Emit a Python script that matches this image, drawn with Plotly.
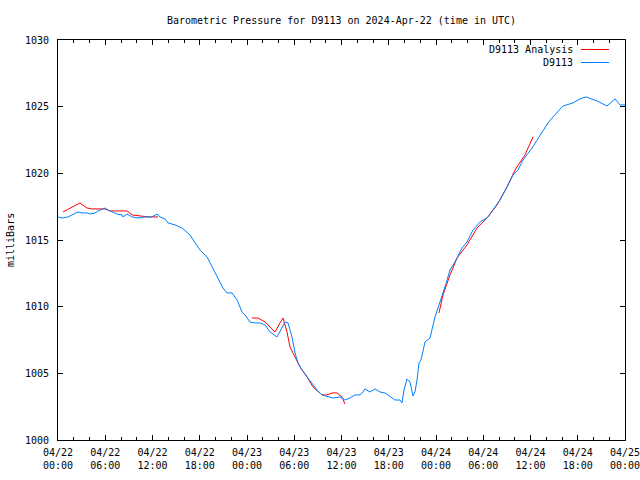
import plotly.graph_objects as go

# Hours since 2024-04-22 00:00 UTC and pressure (mbar) for station D9113
obs_hours = [0.0, 0.51, 1.27, 2.16, 2.54, 3.05, 3.68, 4.06, 4.70, 5.08, 5.97, 6.35, 6.98, 7.49,
             8.13, 8.25, 8.76, 9.40, 10.16, 11.05, 11.94, 12.57, 12.95, 13.59, 13.97, 14.86,
             15.75, 16.38, 16.76, 17.40, 18.03, 18.92, 19.30, 20.19, 20.95, 21.46, 22.10,
             22.73, 23.37, 23.75, 24.38, 25.02, 25.65, 26.29, 26.92, 27.81, 28.44, 28.83,
             29.21, 29.71, 30.10, 30.48, 30.98, 31.62, 32.25, 32.89, 33.52, 34.29, 34.92,
             35.81, 36.44, 37.08, 37.71, 38.35, 38.73, 38.98, 39.62, 40.25, 40.89, 41.52,
             42.16, 42.79, 43.43, 43.68, 43.94, 44.32, 44.70, 45.08, 45.33, 45.59, 45.84,
             46.10, 46.60, 47.24, 47.87, 48.51, 49.14, 49.78, 50.41, 51.30, 51.94, 52.70,
             53.59, 54.48, 55.49, 56.13, 57.02, 57.78, 58.41, 59.05, 60.19, 60.83, 61.46,
             62.22, 62.86, 64.13, 65.40, 66.29, 67.05, 68.44, 69.71, 70.73, 71.37, 72.0]
obs_mbar = [1016.73, 1016.65, 1016.73, 1017.03, 1017.10, 1017.03, 1017.03, 1016.95, 1017.03,
            1017.18, 1017.40, 1017.25, 1017.10, 1016.95, 1016.88, 1016.73, 1016.95, 1016.73,
            1016.65, 1016.73, 1016.73, 1016.95, 1016.73, 1016.58, 1016.28, 1016.13, 1015.90,
            1015.60, 1015.38, 1014.78, 1014.25, 1013.73, 1013.28, 1012.23, 1011.40, 1011.03,
            1011.03, 1010.50, 1009.60, 1009.38, 1008.85, 1008.78, 1008.78, 1008.63, 1008.10,
            1007.73, 1008.48, 1008.85, 1008.78, 1007.73, 1006.53, 1005.78, 1005.25, 1004.73,
            1004.28, 1003.75, 1003.38, 1003.23, 1003.15, 1003.23, 1003.00, 1003.15, 1003.38,
            1003.38, 1003.60, 1003.83, 1003.60, 1003.83, 1003.60, 1003.53, 1003.23, 1003.00,
            1003.00, 1002.78, 1003.75, 1004.58, 1004.35, 1003.30, 1003.60, 1004.50, 1005.78,
            1006.00, 1007.35, 1007.65, 1009.23, 1010.35, 1011.48, 1012.75, 1013.35, 1014.40,
            1014.85, 1015.75, 1016.35, 1016.65, 1017.48, 1018.00, 1018.98, 1019.88, 1020.25,
            1021.00, 1021.90, 1022.50, 1023.03, 1023.78, 1024.23, 1025.05, 1025.28, 1025.58,
            1025.73, 1025.43, 1025.05, 1025.58, 1025.13, 1025.13]

# Analysis series (three separate segments, None = gap)
ana_hours = [0.63, 2.79, 3.68, 4.32, 5.97, 6.60, 7.49, 8.76, 9.40, 11.43, 12.70, None,
             24.63, 25.40, 26.29, 26.92, 27.56, 28.19, 28.57, 29.08, 29.46, 29.84, 30.73,
             31.62, 32.38, 33.52, 34.16, 34.79, 35.43, 36.06, 36.44, None,
             48.38, 48.89, 49.78, 50.67, 51.94, 53.21, 54.60, 55.75, 57.02, 58.03, 59.30, 60.32]
ana_mbar = [1017.10, 1017.78, 1017.40, 1017.33, 1017.33, 1017.18, 1017.18, 1017.18, 1016.88,
            1016.73, 1016.73, None,
            1009.15, 1009.15, 1008.85, 1008.48, 1008.10, 1008.78, 1009.15, 1008.10, 1006.98,
            1006.53, 1005.48, 1004.73, 1003.98, 1003.38, 1003.38, 1003.53, 1003.53, 1003.23,
            1002.70, None,
            1009.53, 1010.88, 1012.38, 1013.65, 1014.63, 1015.90, 1016.73, 1017.63, 1018.98,
            1020.25, 1021.38, 1022.73]

tick_hours = [0, 6, 12, 18, 24, 30, 36, 42, 48, 54, 60, 66, 72]
tick_labels = ["04/22<br>00:00", "04/22<br>06:00", "04/22<br>12:00", "04/22<br>18:00",
               "04/23<br>00:00", "04/23<br>06:00", "04/23<br>12:00", "04/23<br>18:00",
               "04/24<br>00:00", "04/24<br>06:00", "04/24<br>12:00", "04/24<br>18:00",
               "04/25<br>00:00"]
y_ticks = [1000, 1005, 1010, 1015, 1020, 1025, 1030]

RED = "#ff0000"
BLUE = "#0080ff"
FONT = "DejaVu Sans Mono"

FW, FH = 640, 480
L, R, T, B = 58, 625, 40, 440          # plot area in window pixels
PW, PH = R - L, B - T

fig = go.Figure()
fig.add_trace(go.Scatter(x=ana_hours, y=ana_mbar, mode="lines", name="D9113 Analysis",
                         line=dict(color=RED, width=1), connectgaps=False, showlegend=False))
fig.add_trace(go.Scatter(x=obs_hours, y=obs_mbar, mode="lines", name="D9113",
                         line=dict(color=BLUE, width=1), showlegend=False))

# Legend drawn gnuplot-style: text right-aligned, line sample to the right
legend_items = [("D9113 Analysis", RED, 49.5), ("D9113", BLUE, 62.5)]
for label, color, ypix in legend_items:
    yp = 1 - (ypix - T) / PH
    fig.add_annotation(x=(575 - L) / PW, y=yp, xref="paper", yref="paper", text=label,
                       showarrow=False, xanchor="right", yanchor="middle",
                       font=dict(family=FONT, size=10, color="black"))
    fig.add_shape(type="line", xref="paper", yref="paper",
                  x0=(581 - L) / PW, x1=(609 - L) / PW, y0=yp, y1=yp,
                  line=dict(color=color, width=1))

# y-axis title, placed like gnuplot's
fig.add_annotation(x=(10 - L) / PW, y=0.5, xref="paper", yref="paper", text="milliBars",
                   showarrow=False, textangle=-90, xanchor="center", yanchor="middle",
                   font=dict(family=FONT, size=10, color="black"))

fig.update_layout(
    width=FW, height=FH,
    margin=dict(l=L, r=FW - R, t=T, b=FH - B, autoexpand=False),
    paper_bgcolor="white", plot_bgcolor="white",
    font=dict(family=FONT, size=10, color="black"),
    title=dict(text="Barometric Pressure for D9113 on 2024-Apr-22 (time in UTC)",
               x=(L + R) / 2 / FW, xanchor="center",
               y=1 - 20 / FH, yanchor="middle",
               xref="container", yref="container", automargin=False,
               font=dict(family=FONT, size=10, color="black")),
)
fig.update_xaxes(range=[0, 72], tickvals=tick_hours, ticktext=tick_labels,
                 automargin=False, ticklabeloverflow="allow", ticklabelstandoff=3,
                 showgrid=False, zeroline=False, showline=True, linecolor="black",
                 linewidth=1, mirror="allticks", ticks="inside", ticklen=5,
                 tickcolor="black", tickwidth=1,
                 minor=dict(dtick=2, tick0=0, ticks="inside", ticklen=3,
                            tickcolor="black", tickwidth=1, showgrid=False),
                 tickfont=dict(family=FONT, size=10))
fig.update_yaxes(range=[1000, 1030], tickvals=y_ticks, automargin=False,
                 showgrid=False, zeroline=False, showline=True, linecolor="black",
                 linewidth=1, mirror="allticks", ticks="inside", ticklen=5,
                 tickcolor="black", tickwidth=1, ticklabelstandoff=6,
                 tickfont=dict(family=FONT, size=10))

# Put the figure flush with the window corner (no default page margin / scrollbars)
fig.write_html("out.html", config={"displayModeBar": False},
               post_script="document.body.style.margin='0';"
                           "document.body.style.overflow='hidden';")
